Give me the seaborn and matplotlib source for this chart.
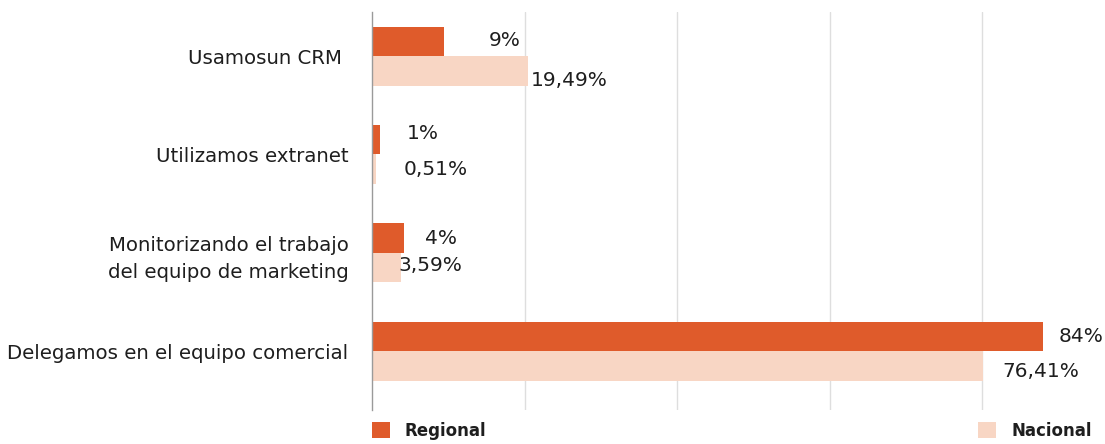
import pandas as pd
import matplotlib.pyplot as plt
import seaborn as sns
from matplotlib.patches import Patch

# datos
categorias = ["Usamosun CRM ", "Utilizamos extranet",
              "Monitorizando el trabajo\ndel equipo de marketing",
              "Delegamos en el equipo comercial"]
regional = [9, 1, 4, 84]
nacional = [19.49, 0.51, 3.59, 76.41]
etiq_regional = ["9%", "1%", "4%", "84%"]
etiq_nacional = ["19,49%", "0,51%", "3,59%", "76,41%"]
series = ["Regional", "Nacional"]

df = pd.DataFrame({
    "categoria": categorias * 2,
    "valor": regional + nacional,
    "serie": [series[0]] * 4 + [series[1]] * 4,
})

sns.set_style("white")
plt.rcParams["font.family"] = ["Liberation Sans Narrow", "DejaVu Sans"]

colores = {"Regional": "#DF5B2B", "Nacional": "#F8D6C4"}
texto = "#1e1e1e"

fig = plt.figure(figsize=(11.05, 4.44), dpi=100)
ax = fig.add_axes([372 / 1105, 1 - 410 / 444, 733 / 1105, 398 / 444])

sns.barplot(data=df, x="valor", y="categoria", hue="serie", palette=colores,
            orient="h", width=0.6, ax=ax, legend=False, saturation=1,
            linewidth=0)

ax.set_xlim(0, 733 / 7.99)
ax.set_ylim(3.6, -0.45)
ax.set_xticks([19.1, 38.2, 57.3, 76.4])
ax.set_xticklabels([])
ax.grid(axis="x", color="#dedede", linewidth=1)
ax.set_axisbelow(True)
for s in ["top", "right", "bottom"]:
    ax.spines[s].set_visible(False)
ax.spines["left"].set_color("#9a9a9a")
ax.spines["left"].set_linewidth(1)
ax.set_xlabel("")
ax.set_ylabel("")
ax.tick_params(axis="y", length=0, pad=17, labelsize=14.2, labelcolor=texto)
ax.tick_params(axis="x", length=0)
for t in ax.get_yticklabels():
    t.set_linespacing(1.55)

# etiquetas de valor (desplazamientos en píxeles)
off_reg = [(45, 1), (27, 6), (21, 0), (15, 0)]
off_nac = [(3, -10), (28, 0), (-2, 2), (20, -6)]
for i in range(4):
    ax.annotate(etiq_regional[i], (regional[i], i - 0.15), xytext=off_reg[i],
                textcoords="offset pixels", ha="left", va="center",
                fontsize=14.5, color=texto)
    ax.annotate(etiq_nacional[i], (nacional[i], i + 0.15), xytext=off_nac[i],
                textcoords="offset pixels", ha="left", va="center",
                fontsize=14.5, color=texto)

# leyenda
handles = [Patch(facecolor=colores[s], edgecolor="none") for s in series]
leg = fig.legend(handles, series, loc="lower left",
                 bbox_to_anchor=(372 / 1105, 4 / 444), ncol=2, frameon=False,
                 borderpad=0, borderaxespad=0,
                 handlelength=1.08, handleheight=1.08, handletextpad=0.9,
                 columnspacing=29.5, prop={"size": 12, "weight": "bold"})
for t in leg.get_texts():
    t.set_color(texto)

plt.savefig("out.png", dpi=100)
